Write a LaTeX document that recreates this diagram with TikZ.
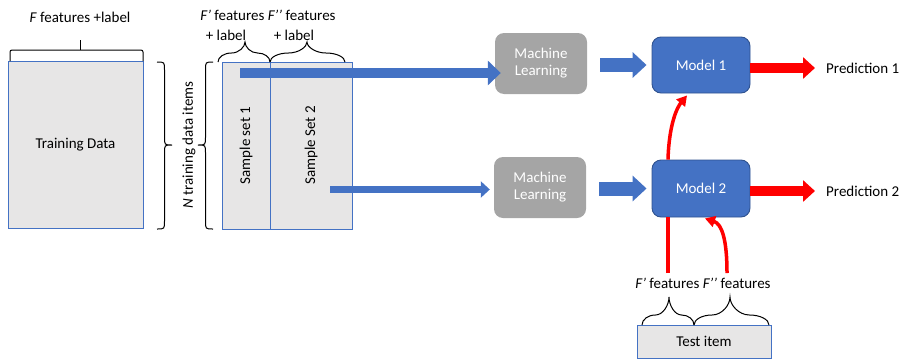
\documentclass[tikz,border=0pt]{standalone}
\usepackage{fontspec}
\setmainfont{Carlito}
\usetikzlibrary{arrows.meta,calc}
\definecolor{boxgray}{HTML}{E7E6E6}
\definecolor{mlgray}{HTML}{A5A5A5}
\definecolor{obl}{HTML}{4472C4}
\definecolor{dbl}{HTML}{2F528F}
\definecolor{pred}{HTML}{FF0000}
\tikzset{
  datbox/.style={draw=obl, line width=0.9pt, fill=boxgray, inner sep=0pt},
  mlbox/.style={fill=mlgray, rounded corners=9pt, inner sep=0pt, minimum width=92pt, minimum height=61pt, text=white, align=center},
  modbox/.style={fill=obl, draw=dbl, line width=0.9pt, rounded corners=9pt, inner sep=0pt, minimum width=98pt, minimum height=56pt, text=white},
  lbl/.style={inner sep=0pt, align=center},
  brc/.style={draw=black, line width=1pt},
  bigblue/.style={draw=obl, line width=10pt, -{Triangle[width=24pt,length=13pt]}},
  smallblue/.style={draw=obl, line width=7pt, -{Triangle[width=16pt,length=9pt]}},
  midblue/.style={draw=obl, line width=14pt, -{Triangle[width=25pt,length=14pt]}},
  redblock/.style={draw=pred, line width=10pt, -{Triangle[width=21pt,length=12pt]}},
  redcurve/.style={draw=pred, line width=3.5pt, -{Triangle[width=11pt,length=10pt]}},
  redline/.style={draw=pred, line width=3.5pt}
}
% horizontal curly brace: x1, x2, xm, y0 (ends), ym (flat level), yt (tip)
\newcommand\hbr[6]{\draw[brc] (#1,#4) .. controls (#1,{#4+0.55*(#5-#4)}) and ({#1+0.225*(#3-#1)},#5) .. ({(#1+#3)/2},#5) .. controls ({#3-0.225*(#3-#1)},#5) and (#3,{#5+0.55*(#6-#5)}) .. (#3,#6) .. controls (#3,{#5+0.55*(#6-#5)}) and ({#3+0.225*(#2-#3)},#5) .. ({(#3+#2)/2},#5) .. controls ({#2-0.225*(#2-#3)},#5) and (#2,{#4+0.55*(#5-#4)}) .. (#2,#4);}
\newcommand\vbr[6]{\draw[brc] (#1,#2) .. controls ({#1+#5/2},#2) .. ({#1+#5/2},{#2+#6}) -- ({#1+#5/2},{#4-#6}) .. controls ({#1+#5/2},#4) .. ({#1+#5},#4) .. controls ({#1+#5/2},#4) .. ({#1+#5/2},{#4+#6}) -- ({#1+#5/2},{#3-#6}) .. controls ({#1+#5/2},#3) .. (#1,#3);}
\begin{document}
\begin{tikzpicture}[x=1pt,y=-1pt,font=\fontsize{15}{17}\selectfont]
\useasboundingbox (0,0) rectangle (899,362);
% training data
\node[datbox, minimum width=135pt, minimum height=167pt] (train) at (75.5,144.5) {Training Data};
\node[lbl] (ftxt) at (80,17) {\textit{F} features +label};
\draw[brc, rounded corners=2pt] (10,61) -- (10,50) -- (143,50) -- (143,61);
\draw[brc] (80,50) -- (80,40);
\vbr{157}{62}{229}{145}{15}{8}
\node[lbl, rotate=90] (ntxt) at (189,145) {\textit{N} training data items};
\vbr{213}{62}{229}{145}{-15}{8}
% sample sets
\node[datbox, minimum width=48pt, minimum height=167pt] (s1) at (246,145.5) {};
\node[datbox, minimum width=82pt, minimum height=167pt] (s2) at (311,145.5) {};
\node[lbl, rotate=90] at (s1) {Sample set 1};
\node[lbl, rotate=90] at (s2) {Sample Set 2};
\node[lbl] (fptxt) at (268,15) {\textit{F’} features \textit{F’’} features};
\node[lbl] (pl1) at (226,35) {+ label};
\node[lbl] (pl2) at (294,35) {+ label};
\hbr{218}{270}{245}{62}{53}{42}
\hbr{270}{345}{307}{62}{53}{42}
% machine learning
\node[mlbox] (ml1) at (541,63.5) {Machine\\Learning};
\node[mlbox] (ml2) at (540,187.5) {Machine\\Learning};
% models
\node[modbox] (m1) at (701,65) {Model 1};
\node[modbox, minimum height=57pt] (m2) at (701,188.5) {Model 2};
\node[lbl, anchor=west] (p1) at (826,68) {Prediction 1};
\node[lbl, anchor=west] (p2) at (826,191) {Prediction 2};
% test item
\node[datbox, minimum width=134pt, minimum height=33pt] (test) at (704,341.5) {Test item};
\node[lbl] (tftxt) at (703,283) {\textit{F’} features \textit{F’’} features};
\hbr{642}{694}{669}{325}{315}{297}
\hbr{694}{769}{730}{325}{315}{297}
% blue arrows
\coordinate (a1s) at (240,73);
\draw[bigblue] (a1s) -- ([xshift=6pt]ml1.west |- a1s);
\coordinate (a2s) at (330,189.5);
\draw[smallblue] (a2s) -- ([xshift=-4pt]ml2.west |- a2s);
\draw[midblue] ([xshift=13pt]ml1.east |- m1.west) -- ([xshift=-5pt]m1.west);
\draw[midblue] ([xshift=13pt]ml2.east |- m2.west) -- ([xshift=-5pt]m2.west);
% red arrows
\coordinate (r1e) at (815,68);
\coordinate (r2e) at (815,191);
\draw[redblock] (m1.east |- r1e) -- (r1e);
\draw[redblock] (m2.east |- r2e) -- (r2e);
\coordinate (c1s) at ([xshift=-33pt]m2.north);
\coordinate (c1e) at ([xshift=-14pt,yshift=-2pt]m1.south);
\draw[redcurve] (c1s) .. controls ($(c1s)+(1,-35)$) and ($(c1e)+(-10,12)$) .. (c1e);
\coordinate (l1s) at (668,273);
\draw[redline] (l1s) -- (l1s |- m2.south);
\coordinate (c2s) at (727,273);
\coordinate (c2e) at ([xshift=4pt,yshift=-1pt]m2.south);
\draw[redcurve] (c2s) .. controls (727,240) and (722,224) .. (c2e);
\end{tikzpicture}
\end{document}
